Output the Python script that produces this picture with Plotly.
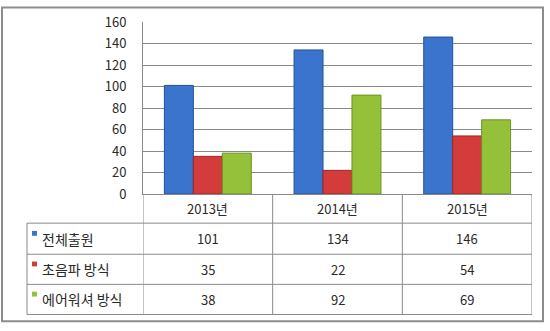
import plotly.graph_objects as go

# ---- data ----
years = ["2013년", "2014년", "2015년"]
series_names = ["전체출원", "초음파 방식", "에어워셔 방식"]
total = [101, 134, 146]
ultrasonic = [35, 22, 54]
airwasher = [38, 92, 69]
y_ticks = [0, 20, 40, 60, 80, 100, 120, 140, 160]

series_values = [total, ultrasonic, airwasher]
colors = ["#3b74cc", "#d43c3c", "#94c03a"]
edge_colors = ["#23519a", "#9e2424", "#6d9224"]

FONT = "Noto Sans CJK KR, Noto Sans, sans-serif"
TXT = "#2a2a2a"

W, H = 550, 331
ML, MR, MT, MB = 143, 18, 17, 137
PW = W - ML - MR
PH = H - MT - MB


def px_x(px):
    return (px - ML) / PW


def px_y(py):
    return (H - MB - py) / PH


fig = go.Figure()
for name, vals, c, ec in zip(series_names, series_values, colors, edge_colors):
    fig.add_trace(go.Bar(
        x=years, y=vals, name=name,
        marker=dict(color=c, line=dict(color=ec, width=1)),
        showlegend=False,
    ))

shapes = []
annotations = []
grid_col = "#8a8a8a"

# table row boundaries (pixels)
row_bounds = [194, 224, 256, 287, 318]
table_left = 27
n = len(years)

# horizontal lines
for i, yb in enumerate(row_bounds):
    if i == 0:
        continue
    shapes.append(dict(type="line", xref="paper", yref="paper",
                       x0=px_x(table_left), x1=1,
                       y0=px_y(yb), y1=px_y(yb),
                       line=dict(color=grid_col, width=1)))
# vertical column lines
for k in range(n + 1):
    shapes.append(dict(type="line", xref="x", yref="paper",
                       x0=k - 0.5, x1=k - 0.5,
                       y0=px_y(row_bounds[0]), y1=px_y(row_bounds[-1]),
                       line=dict(color=grid_col, width=1)))
# legend column left edge
shapes.append(dict(type="line", xref="paper", yref="paper",
                   x0=px_x(table_left), x1=px_x(table_left),
                   y0=px_y(row_bounds[1]), y1=px_y(row_bounds[-1]),
                   line=dict(color=grid_col, width=1)))

# header text
for k, yr in enumerate(years):
    annotations.append(dict(x=yr, xref="x", yref="paper",
                            y=px_y((row_bounds[0] + row_bounds[1]) / 2),
                            yanchor="middle", xanchor="center",
                            text=yr, showarrow=False,
                            font=dict(family=FONT, size=13, color=TXT)))
# rows
for r, (name, vals, c) in enumerate(zip(series_names, series_values, colors)):
    top, bot = row_bounds[r + 1], row_bounds[r + 2]
    cy = (top + bot) / 2
    for yr, v in zip(years, vals):
        annotations.append(dict(x=yr, xref="x", yref="paper", y=px_y(cy),
                                yanchor="middle", xanchor="center",
                                text=str(v), showarrow=False,
                                font=dict(family=FONT, size=13, color=TXT)))
    annotations.append(dict(x=px_x(40), xref="paper", yref="paper", y=px_y(cy),
                            xanchor="left", yanchor="middle",
                            text=name, showarrow=False,
                            font=dict(family=FONT, size=14, color=TXT)))
    shapes.append(dict(type="rect", xref="paper", yref="paper",
                       x0=px_x(32), x1=px_x(37),
                       y0=px_y(cy - 3), y1=px_y(cy - 8),
                       fillcolor=c, line=dict(width=0)))

# outer border
shapes.append(dict(type="rect", xref="paper", yref="paper",
                   x0=px_x(2), x1=px_x(543), y0=px_y(325), y1=px_y(2),
                   line=dict(color="#8c8c8c", width=2)))

fig.update_layout(
    width=W, height=H,
    margin=dict(l=ML, r=MR, t=MT, b=MB),
    paper_bgcolor="white", plot_bgcolor="white",
    barmode="group", bargap=0.33, bargroupgap=0,
    shapes=shapes, annotations=annotations,
    xaxis=dict(showticklabels=False, showgrid=False, zeroline=False,
               showline=True, linecolor=grid_col, linewidth=1, mirror=False,
               range=[-0.5, n - 0.5]),
    yaxis=dict(range=[0, 160], tickvals=y_ticks, showgrid=True,
               gridcolor=grid_col, gridwidth=1, zeroline=False,
               showline=True, linecolor=grid_col, linewidth=1,
               ticks="", ticklabelstandoff=13,
               tickfont=dict(family=FONT, size=13, color=TXT)),
)

fig.write_html("out.html")
